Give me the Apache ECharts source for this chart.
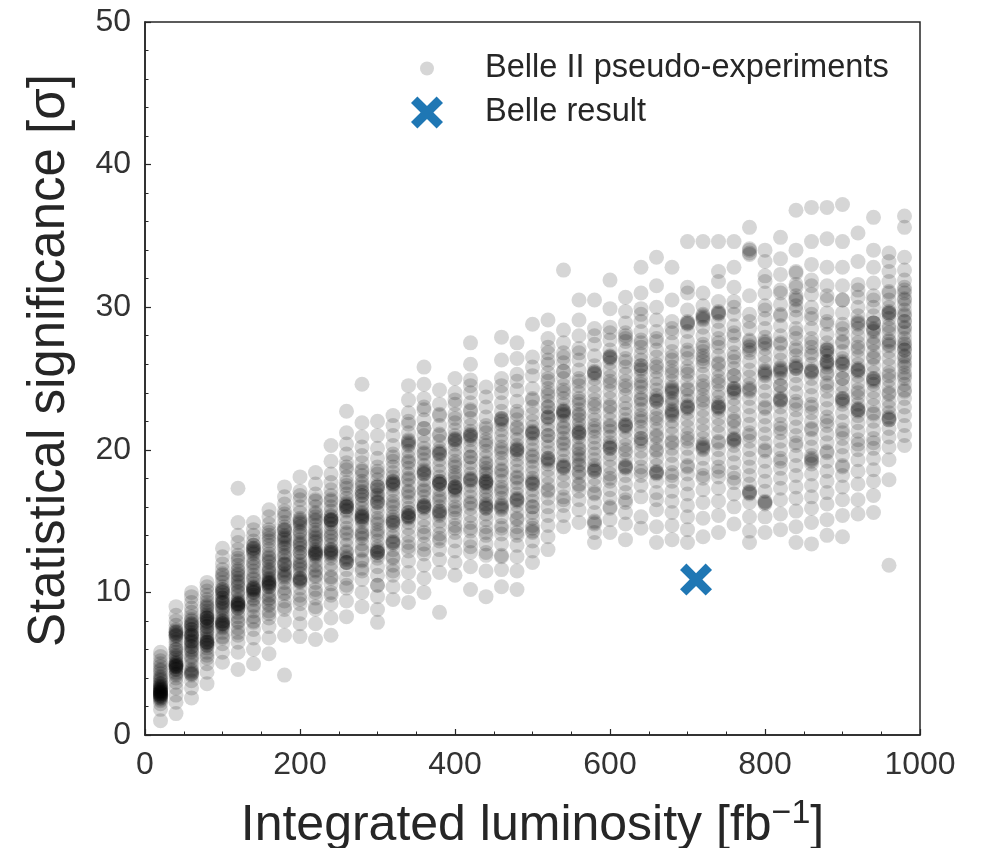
<!DOCTYPE html>
<html>
<head>
<meta charset="utf-8">
<script src="https://cdn.jsdelivr.net/npm/echarts@6/dist/echarts.min.js"></script>
<style>
html,body{margin:0;padding:0;background:#fff;}
#chart{width:985px;height:848px;}
</style>
</head>
<body>
<div id="chart"></div>
<script>
// Integrated luminosity of each pseudo-experiment column [fb^-1]
const lumi = [20,40,60,80,100,120,140,160,180,200,220,240,260,280,300,320,340,360,380,400,
  420,440,460,480,500,520,540,560,580,600,620,640,660,680,700,720,740,760,780,800,
  820,840,860,880,900,920,940,960,980];

// Statistical significance values of the pseudo-experiments, one row per luminosity column
const significance = [
  [1.0,1.8,2.2,2.4,2.6,2.7,2.8,2.9,3.0,3.0,3.1,3.2,3.3,3.4,3.5,3.6,3.8,3.9,4.1,4.3,4.5,4.6,4.8,5.0,5.2,5.5,5.8,3.2,2.9,4.0,2.8,3.1, 2.5,2.6,2.8,2.9,3.0,3.1,3.3,3.4,2.7,3.6],
  [1.5,2.3,2.8,3.3,3.7,4.0,4.2,4.4,4.6,4.7,4.8,4.9,5.0,5.2,5.4,5.6,5.8,6.0,6.2,6.5,6.7,6.9,7.0,7.2,7.4,7.7,8.0,8.4,9.0,5.1,4.8,7.1, 4.6,4.8,4.9,5.0,7.0,7.2,7.3,6.0,4.3,5.5],
  [2.6,3.3,3.8,4.2,4.4,4.6,4.9,5.2,5.5,5.8,6.0,6.2,6.4,6.6,6.8,7.0,7.2,7.4,7.6,7.8,8.0,8.3,8.6,8.9,9.3,9.7,10.0,5.4,6.5,7.1,4.3,7.7, 4.3,4.5,6.2,6.6,7.0,7.4,7.8,6.9,5.9,8.1],
  [3.6,4.4,5.0,5.4,5.8,6.1,6.3,6.5,6.6,6.8,7.0,7.2,7.4,7.6,7.8,8.0,8.2,8.3,8.5,8.7,8.9,9.1,9.3,9.5,9.8,10.1,10.4,10.7,6.4,7.9,6.5,8.2, 6.3,6.5,6.7,8.0,8.2,8.4,7.3,9.0,5.6,7.6],
  [5.1,5.8,6.4,6.9,7.2,7.5,7.7,7.8,8.0,8.2,8.4,8.6,8.8,9.0,9.2,9.4,9.6,9.8,10.0,10.2,10.4,10.7,11.0,11.3,11.6,12.0,12.5,13.1,7.9,9.3,7.8,10.1, 7.6,7.8,8.0,9.3,9.6,10.0,10.2,8.9,6.8,11.2],
  [4.6,5.8,6.5,7.0,7.5,7.9,8.3,8.6,8.9,9.1,9.2,9.3,9.5,9.8,10.1,10.4,10.7,11.0,11.3,11.6,11.9,12.2,12.6,13.0,13.5,14.0,14.9,17.3,9.0,10.5,9.2,11.2, 8.9,9.1,9.2,9.4,10.0,8.0,11.5,12.4,7.2,10.8],
  [5.0,6.0,6.8,7.4,7.9,8.3,8.7,9.1,9.5,9.8,10.0,10.2,10.4,10.6,10.9,11.2,11.5,11.8,12.1,12.4,12.7,13.0,13.3,13.6,14.0,14.4,14.9,10.1,9.6,12.9,10.3,13.1, 10.0,10.2,10.3,12.8,13.1,13.3,11.0,9.0,12.0,8.0],
  [5.7,6.8,7.6,8.2,8.7,9.1,9.5,9.8,10.1,10.4,10.6,10.8,11.0,11.2,11.5,11.8,12.1,12.4,12.7,13.0,13.3,13.6,14.0,14.4,14.8,15.3,15.8,10.7,11.6,9.2,10.5,12.2, 10.4,10.6,10.7,10.9,12.5,13.8,9.6,11.4,8.5,14.2],
  [4.2,7.0,8.0,8.8,9.4,9.9,10.3,10.7,11.0,11.3,11.6,11.9,12.2,12.5,12.8,13.1,13.4,13.7,14.0,14.3,14.6,14.9,15.3,15.7,16.2,16.7,17.4,12.0,13.5,11.2,13.9,14.4, 11.1,11.5,12.0,12.6,13.2,13.8,14.4,10.0,9.0,15.5],
  [6.9,7.8,8.5,9.2,9.8,10.3,10.7,11.0,11.3,11.6,11.9,12.2,12.5,12.8,13.1,13.4,13.7,14.0,14.3,14.6,14.9,15.2,15.6,16.0,16.5,17.1,18.1,12.0,13.3,10.8,10.9,14.8, 10.8,11.0,12.8,13.5,14.2,15.0,15.1,11.8,9.5,16.8],
  [6.7,7.8,8.8,9.6,10.2,10.7,11.1,11.5,11.9,12.2,12.5,12.7,12.9,13.2,13.5,13.8,14.1,14.4,14.7,15.0,15.3,15.6,16.0,16.4,16.9,17.6,18.4,12.8,13.9,11.6,12.7,15.1, 12.6,12.8,13.0,11.2,14.2,15.5,10.0,16.5,9.0,13.6],
  [7.0,8.2,9.2,10.0,10.6,11.1,11.6,12.0,12.4,12.7,13.0,13.3,13.6,13.9,14.2,14.5,14.8,15.1,15.4,15.7,16.0,16.4,16.8,17.2,17.7,18.3,19.2,20.3,12.8,15.0,15.1,12.9, 12.6,12.8,13.0,15.0,15.1,15.3,14.0,11.0,16.5,9.8],
  [8.3,9.4,10.3,11.0,11.6,12.1,12.5,12.9,13.3,13.7,14.1,14.5,14.9,15.3,15.7,16.0,16.3,16.6,16.9,17.3,17.7,18.1,18.6,19.1,19.7,20.4,21.2,22.7,12.3,16.1,12.1,16.0, 12.1,12.4,12.8,15.8,16.0,16.2,14.2,17.5,10.5,18.8],
  [9.0,10.0,10.9,11.7,12.3,12.9,13.4,13.8,14.2,14.6,15.0,15.3,15.6,15.9,16.2,16.5,16.8,17.1,17.4,17.8,18.2,18.6,19.1,19.6,20.2,20.9,21.9,24.6,15.4,14.1,15.2,17.0, 15.1,15.3,15.5,14.0,16.8,13.0,18.5,11.5,17.6,12.2],
  [7.9,8.8,9.7,10.5,11.2,11.8,12.4,12.8,13.2,13.6,14.0,14.4,14.8,15.2,15.6,16.0,16.3,16.6,16.9,17.2,17.5,17.9,18.3,18.8,19.4,20.1,21.0,22.0,12.9,16.4,17.4,12.8, 12.6,12.8,13.0,16.3,16.8,17.4,15.0,18.5,10.5,14.2],
  [9.5,10.4,11.2,11.9,12.5,13.0,13.5,13.9,14.3,14.7,15.0,15.3,15.6,16.0,16.4,16.8,17.2,17.5,17.8,18.1,18.4,18.8,19.2,19.7,20.3,21.0,21.7,22.4,14.9,17.7,13.5,17.6, 13.4,13.6,14.9,15.1,17.6,17.8,16.2,19.5,11.5,12.4],
  [9.3,10.4,11.4,12.2,12.9,13.5,14.0,14.5,14.9,15.3,15.6,15.9,16.3,16.7,17.1,17.5,17.9,18.3,18.7,19.1,19.5,19.9,20.3,20.7,21.2,21.8,22.6,23.5,24.5,15.3,20.5,15.4, 15.2,15.4,15.6,20.4,20.6,18.0,17.0,13.2,22.0,19.2],
  [10.0,11.0,11.9,12.7,13.4,14.0,14.6,15.1,15.6,16.0,16.3,16.7,17.1,17.5,17.9,18.3,18.6,18.9,19.3,19.7,20.1,20.5,21.0,21.5,22.1,22.8,23.6,24.6,25.8,16.1,18.4,16.0, 15.9,16.1,18.3,18.5,17.2,19.8,14.2,21.5,13.0,23.0],
  [8.6,11.4,12.3,13.0,13.6,14.1,14.6,15.0,15.4,15.7,16.0,16.4,16.8,17.2,17.6,17.8,18.1,18.5,18.9,19.3,19.7,20.1,20.6,21.1,21.7,22.4,23.2,24.2,15.6,17.7,19.8,17.6, 15.5,15.7,17.6,17.8,19.7,19.9,16.6,21.0,13.8,22.5],
  [11.2,12.1,12.9,13.6,14.2,14.7,15.2,15.6,16.0,16.4,16.8,17.1,17.4,17.7,18.0,18.4,18.8,19.2,19.6,20.0,20.4,20.7,21.0,21.4,21.9,22.5,23.2,24.0,25.0,17.3,20.7,17.4, 17.2,17.4,20.6,20.8,19.0,15.8,22.2,14.5,18.2,23.5],
  [10.2,11.8,12.8,13.6,14.3,14.9,15.4,15.9,16.3,16.7,17.1,17.5,17.9,18.3,18.7,19.1,19.5,19.9,20.3,20.7,21.0,21.3,21.7,22.2,22.7,23.3,24.0,24.9,26.0,27.5,21.0,17.9, 17.8,18.0,20.9,21.1,19.5,16.2,22.8,14.5,24.5,13.2],
  [9.7,11.5,12.6,13.4,14.0,14.6,15.1,15.5,15.9,16.2,16.5,16.8,17.1,17.4,17.7,18.0,18.3,18.7,19.1,19.5,19.9,20.3,20.7,21.2,21.7,22.3,23.0,23.7,24.4,16.0,17.7,17.8, 15.9,16.1,17.6,17.8,19.0,21.5,14.2,18.5,20.5,12.8],
  [10.4,11.6,12.6,13.4,14.1,14.7,15.3,15.8,16.2,16.6,17.0,17.4,17.8,18.2,18.6,19.0,19.4,19.8,20.2,20.6,21.0,21.4,21.8,22.2,22.7,23.3,24.0,25.0,26.3,27.9,22.1,16.0, 15.9,16.1,22.0,22.2,18.5,20.0,14.5,24.5,17.2,12.5],
  [10.2,11.5,12.5,13.3,14.0,14.6,15.1,15.6,16.1,16.5,16.9,17.3,17.7,18.1,18.5,18.9,19.3,19.7,20.0,20.3,20.7,21.1,21.6,22.1,22.7,23.4,24.2,25.3,26.4,27.5,20.0,16.5, 16.4,16.6,19.9,20.1,18.0,22.5,14.2,21.5,15.2,24.8],
  [12.1,12.9,13.6,14.2,14.7,15.2,15.6,16.0,16.4,16.8,17.2,17.6,18.0,18.4,18.8,19.2,19.6,20.0,20.4,20.8,21.2,21.6,22.0,22.5,23.0,23.6,24.3,25.2,26.5,28.8,21.2,17.7, 14.3,14.5,17.6,17.8,21.1,21.3,19.5,23.5,16.0,25.8],
  [13.0,13.9,14.7,15.4,16.0,16.6,17.1,17.6,18.1,18.6,19.0,19.4,19.8,20.2,20.6,21.0,21.4,21.8,22.2,22.6,23.0,23.4,23.8,24.3,24.8,25.4,26.0,26.8,27.8,29.1,19.3,22.3, 19.2,19.4,22.3,24.0,26.3,25.0,21.0,17.2,23.0,27.2],
  [14.6,15.4,16.1,16.7,17.3,17.8,18.3,18.8,19.2,19.6,20.0,20.4,20.8,21.2,21.6,22.0,22.4,22.8,23.2,23.6,24.0,24.5,25.0,25.5,26.1,26.8,27.5,28.4,32.6,22.6,18.8,22.7, 18.7,18.9,22.5,22.7,20.5,24.2,16.5,26.5,21.5,25.5],
  [14.9,15.8,16.5,17.1,17.6,18.1,18.5,18.9,19.3,19.7,20.1,20.5,20.9,21.2,21.5,21.8,22.1,22.4,22.8,23.2,23.6,24.0,24.5,25.0,25.6,26.3,27.1,28.0,29.1,30.5,21.2,19.0, 18.4,20.0,21.1,21.3,23.4,22.5,24.8,17.5,26.8,19.5],
  [13.5,14.2,14.9,15.6,16.3,16.9,17.5,18.0,18.5,18.9,19.3,19.7,20.1,20.5,20.9,21.3,21.7,22.1,22.5,23.0,23.5,24.0,24.5,25.0,25.4,25.9,26.6,27.4,28.5,30.5,18.6,25.4, 14.8,15.0,18.5,18.7,25.3,25.5,21.5,23.2,17.0,28.0],
  [14.2,15.1,15.9,16.6,17.2,17.8,18.3,18.8,19.3,19.7,20.1,20.5,20.9,21.3,21.7,22.1,22.6,23.1,23.6,24.1,24.6,25.1,25.6,26.1,26.5,27.0,27.7,28.6,29.9,31.9,26.5,20.2, 20.1,20.3,26.4,26.6,23.0,18.0,24.8,21.6,28.2,16.0],
  [13.7,14.8,15.6,16.3,17.0,17.6,18.2,18.8,19.3,19.8,20.3,20.8,21.3,21.7,22.1,22.5,22.9,23.3,23.8,24.3,24.8,25.3,25.8,26.4,27.0,27.6,28.2,28.9,29.7,30.7,21.7,18.8, 18.7,18.9,21.6,21.8,27.8,28.0,24.5,20.0,16.5,26.2],
  [14.5,15.3,16.7,17.5,18.2,18.8,19.4,19.9,20.4,20.8,21.2,21.6,22.0,22.4,22.8,23.2,23.6,24.0,24.4,24.8,25.2,25.6,25.9,26.3,26.7,27.2,27.7,28.3,29.0,29.9,31.0,32.8, 20.6,20.8,25.7,25.9,23.5,22.2,27.5,18.5,24.6,29.5],
  [13.5,14.6,15.8,17.0,17.8,18.4,18.9,19.4,19.9,20.4,20.9,21.4,21.9,22.4,22.9,23.4,23.8,24.2,24.6,25.0,25.5,26.0,26.5,27.0,27.6,28.3,29.1,30.0,31.5,33.5,18.4,23.5, 18.3,18.5,23.4,23.6,21.0,25.8,20.0,27.8,16.5,22.2],
  [13.7,14.7,15.6,16.4,17.1,17.8,18.4,19.0,19.6,20.1,20.6,21.1,21.6,22.0,22.4,22.8,23.2,23.6,24.0,24.4,24.8,25.3,25.8,26.3,26.9,27.5,28.2,29.0,30.5,32.8,24.2,22.6, 22.5,22.7,24.1,24.3,26.5,20.5,28.5,18.2,23.4,25.5],
  [13.5,14.4,15.3,16.1,16.9,17.6,18.3,18.9,19.5,20.1,20.6,21.1,21.6,22.1,22.6,23.0,23.4,23.8,24.3,24.8,25.3,25.8,26.4,27.0,27.6,28.3,28.9,29.8,31.4,34.6,23.0,28.9, 22.9,23.1,28.8,29.0,25.5,20.8,26.8,18.8,24.2,31.0],
  [13.9,15.2,16.3,17.2,18.0,18.7,19.4,20.0,20.4,20.8,21.3,21.8,22.3,22.8,23.3,23.8,24.3,24.8,25.3,25.9,26.4,26.9,27.4,28.0,28.6,29.1,29.5,30.1,31.0,34.6,29.3,20.2, 20.1,20.3,26.2,26.6,29.2,29.4,23.5,27.2,18.2,24.5],
  [14.2,15.4,16.4,17.3,18.1,18.8,19.4,20.0,20.6,21.2,21.7,22.2,22.7,23.0,23.3,23.7,24.1,24.6,25.1,25.6,26.1,26.6,27.2,27.8,28.4,29.0,29.6,30.4,31.8,34.6,23.0,29.6, 22.9,23.1,29.5,29.7,26.0,20.5,27.5,18.5,24.8,32.5],
  [14.8,16.0,16.9,17.7,18.4,19.1,19.7,20.3,20.7,21.1,21.6,22.1,22.6,23.1,23.6,24.0,24.3,24.7,25.2,25.7,26.2,26.8,27.4,28.0,28.7,29.5,30.4,31.4,32.8,34.6,24.2,20.7, 20.6,20.8,24.1,24.3,22.0,26.5,28.2,18.0,25.2,30.0],
  [13.5,14.3,15.3,16.3,17.0,17.6,18.2,18.8,19.4,20.0,20.6,21.2,21.8,22.4,23.0,23.6,24.2,24.6,25.1,25.6,26.2,26.8,27.3,27.7,28.5,29.5,30.8,33.7,34.1,35.6,27.0,17.0, 16.9,17.1,24.1,24.3,27.2,27.6,33.8,34.0,21.0,29.0],
  [14.2,15.3,16.3,17.1,17.8,18.5,19.2,19.9,20.5,21.1,21.7,22.3,22.9,23.5,24.1,24.7,25.2,25.6,26.1,26.6,27.1,27.5,27.9,28.5,29.2,30.1,31.0,32.2,33.2,34.0,25.4,16.3, 16.2,16.4,25.3,25.5,27.4,27.6,23.0,29.8,20.0,31.8],
  [14.4,15.5,16.5,17.3,18.0,18.7,19.4,20.0,20.6,21.2,21.8,22.4,23.0,23.5,24.0,24.5,25.0,25.4,25.8,26.3,26.8,27.4,28.0,28.7,29.4,30.2,31.2,32.3,33.4,34.9,25.6,23.5, 23.4,23.6,25.5,25.7,27.5,21.5,29.5,19.2,24.5,31.0],
  [13.5,14.6,15.7,16.6,17.4,18.2,18.9,19.6,20.3,21.0,21.6,22.2,22.8,23.4,24.0,24.6,25.2,25.7,26.1,26.6,27.2,27.8,28.5,29.3,30.1,30.8,31.6,32.5,34.0,36.8,25.8,30.5, 25.7,25.9,30.6,31.4,32.4,28.2,23.2,27.0,20.5,29.8],
  [13.4,14.9,15.9,16.7,17.5,18.3,19.0,19.6,20.2,20.8,21.4,22.0,22.6,23.2,23.8,24.4,25.0,25.5,26.0,26.6,27.2,27.8,28.5,29.2,30.0,30.9,31.9,33.0,34.6,37.0,25.5,19.3, 19.2,19.4,25.4,25.6,27.5,23.0,29.5,21.5,31.5,26.8],
  [14.0,15.1,16.2,17.0,17.8,18.5,19.2,19.9,20.5,21.1,21.7,22.3,22.9,23.5,24.1,24.7,25.3,25.8,26.2,26.6,27.0,27.5,28.1,28.8,29.6,30.5,31.5,32.8,34.8,37.0,26.1,27.0, 26.0,26.2,26.8,27.1,24.5,29.0,22.0,30.8,19.8,25.4],
  [13.9,15.4,16.5,17.4,18.2,18.9,19.6,20.2,20.8,21.4,22.0,22.6,23.2,23.6,24.0,24.5,25.0,25.5,26.0,26.4,26.9,27.5,28.1,28.8,29.6,30.5,31.5,32.8,34.6,37.2,26.1,23.5, 23.4,23.6,26.0,26.2,28.5,21.2,30.5,25.0,18.8,27.6],
  [15.5,16.5,17.6,18.5,19.3,20.0,20.7,21.3,21.9,22.4,22.8,23.2,23.7,24.2,24.7,25.2,25.6,26.0,26.5,27.0,27.5,28.0,28.5,28.9,29.4,30.0,30.7,31.6,33.2,35.2,25.6,22.8, 22.7,22.9,25.5,25.7,28.8,29.0,27.2,24.0,20.4,31.2],
  [15.6,16.8,17.8,18.6,19.4,20.1,20.8,21.4,22.0,22.6,23.1,23.6,24.1,24.6,25.0,25.4,25.9,26.4,26.9,27.4,27.9,28.4,28.9,29.4,30.0,30.8,31.7,32.8,34.0,36.3,28.9,24.9, 24.8,25.0,28.3,28.5,28.9,26.5,30.5,22.5,27.5,20.5],
  [11.9,17.9,19.3,20.2,20.9,21.5,22.1,22.6,23.0,23.4,23.9,24.4,24.9,25.4,25.9,26.4,26.9,27.3,27.7,28.2,28.7,29.2,29.6,30.0,30.5,31.1,31.8,32.5,33.2,33.8,29.6,22.2, 22.1,22.3,27.4,27.6,29.5,29.7,25.2,31.0,24.0,28.5],
  [20.3,21.0,21.7,22.4,23.0,23.6,24.1,24.6,25.0,25.4,25.8,26.2,26.6,27.0,27.4,27.8,28.2,28.6,29.0,29.4,29.8,30.2,30.6,31.0,31.4,31.9,32.6,33.5,35.6,36.4,27.0,29.0, 24.2,25.2,26.5,27.5,28.5,29.5,30.5,31.2,27.2,26.0]
];

// Belle measurement
const belleLumi = [711];
const belleSig = [10.9];

// Axis ticks
const xTicks = [0, 200, 400, 600, 800, 1000];
const yTicks = [0, 10, 20, 30, 40, 50];

const pseudo = [];
lumi.forEach((x, i) => significance[i].forEach(v => pseudo.push([x, v])));
const belle = belleLumi.map((x, i) => [x, belleSig[i]]);

const FONT = 'Liberation Sans, Arial, sans-serif';
const INK = '#262626';
const XPATH = 'path://M-1,-0.6 L-0.6,-1 L0,-0.4 L0.6,-1 L1,-0.6 L0.4,0 L1,0.6 L0.6,1 L0,0.4 L-0.6,1 L-1,0.6 L-0.4,0 Z';

const chart = echarts.init(document.getElementById('chart'), null, {renderer: 'canvas'});
chart.setOption({
  animation: false,
  backgroundColor: '#ffffff',
  grid: {left: 145, right: 65, top: 22, bottom: 113, outerBoundsMode: 'none', containLabel: false,
    show: true, borderColor: INK, borderWidth: 1.5, backgroundColor: 'transparent'},
  xAxis: {
    type: 'value', min: xTicks[0], max: xTicks[xTicks.length - 1], interval: 200,
    name: 'Integrated luminosity [fb{sup|−1}]', nameLocation: 'middle', nameGap: 62,
    nameTextStyle: {fontFamily: FONT, fontSize: 50, color: INK, lineHeight: 58,
      rich: {sup: {fontFamily: FONT, fontSize: 34, color: INK, verticalAlign: 'top', lineHeight: 34}}},
    axisLine: {show: true, onZero: false, lineStyle: {color: INK, width: 1.5}},
    axisTick: {show: true, inside: true, length: 6, lineStyle: {color: INK, width: 1.2}},
    minorTick: {show: true, splitNumber: 4, length: 3.5, lineStyle: {color: INK, width: 1}},
    axisLabel: {fontFamily: FONT, fontSize: 32, color: '#333', margin: 14, formatter: v => String(v)},
    splitLine: {show: false}
  },
  yAxis: {
    type: 'value', min: yTicks[0], max: yTicks[yTicks.length - 1], interval: 10,
    name: 'Statistical significance [σ]', nameLocation: 'middle', nameGap: 70,
    nameTextStyle: {fontFamily: FONT, fontSize: 51, color: INK, padding: [0, 0, 0, 36]},
    axisLine: {show: true, onZero: false, lineStyle: {color: INK, width: 1.5}},
    axisTick: {show: true, inside: true, length: 6, lineStyle: {color: INK, width: 1.2}},
    minorTick: {show: true, splitNumber: 5, length: 3.5, lineStyle: {color: INK, width: 1}},
    axisLabel: {fontFamily: FONT, fontSize: 32, color: '#333', margin: 14, formatter: v => String(v)},
    splitLine: {show: false}
  },
  legend: [
    {data: ['Belle II pseudo-experiments'], left: 420, top: 52, orient: 'vertical', padding: 0,
     itemWidth: 14, itemHeight: 14,
     textStyle: {fontFamily: FONT, fontSize: 32.6, color: INK, padding: [0, 0, 0, 46]}},
    {data: ['Belle result'], left: 411, top: 96, orient: 'vertical', padding: 0,
     itemWidth: 32, itemHeight: 32,
     textStyle: {fontFamily: FONT, fontSize: 32.6, color: INK, padding: [0, 0, 0, 37]}}
  ],
  series: [
    {name: 'Belle II pseudo-experiments', type: 'scatter', data: pseudo, symbol: 'circle', symbolSize: 15,
     itemStyle: {color: 'rgba(0,0,0,0.16)', opacity: 1}, emphasis: {disabled: true}, z: 2},
    {name: 'Belle result', type: 'scatter', data: belle, symbol: XPATH, symbolSize: 32,
     itemStyle: {color: '#1f77b4', opacity: 1}, emphasis: {disabled: true}, z: 3}
  ]
});
</script>
</body>
</html>
